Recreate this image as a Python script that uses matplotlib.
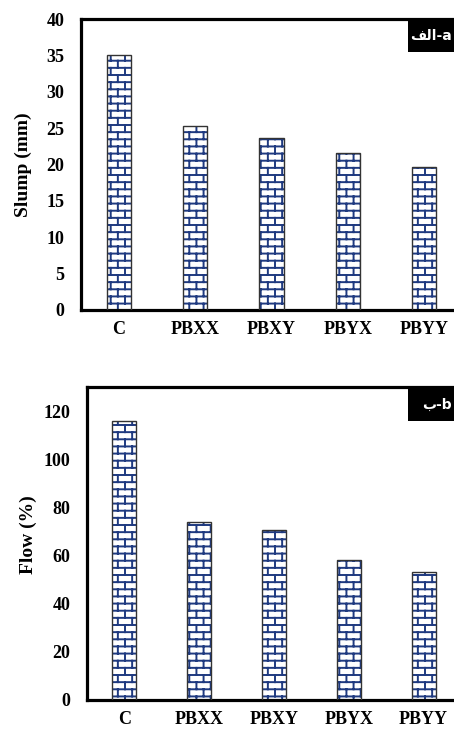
import warnings
warnings.filterwarnings("ignore")
import numpy as np
import matplotlib
matplotlib.use("Agg")
import matplotlib.pyplot as plt
from matplotlib import hatch as mhatch
from matplotlib.path import Path
from matplotlib.patches import Rectangle

# ---------------- data ----------------
categories = ["C", "PBXX", "PBXY", "PBYX", "PBYY"]
slump_mm = [35.0, 25.3, 23.6, 21.6, 19.6]
flow_pct = [116.0, 74.0, 70.5, 58.0, 53.0]
slump_ticks = [0, 5, 10, 15, 20, 25, 30, 35, 40]
flow_ticks = [0, 20, 40, 60, 80, 100, 120]
label_a = "\uFED2\uFEDF\uFE8D-a"   # visual order of "a-الف"
label_b = "\uFE8F-b"               # visual order of "b-ب"


# ---------------- brick hatch ----------------
class BrickHatch(mhatch.HatchPatternBase):
    ROWS = 14
    COLS = 7

    def __init__(self, hatch, density):
        self.on = 'b' in hatch
        if self.on:
            self.num_vertices = (self.ROWS * 2 + (self.ROWS * self.COLS + self.COLS) * 2)
        else:
            self.num_vertices = 0

    def set_vertices_and_codes(self, vertices, codes):
        R, C = self.ROWS, self.COLS
        i = 0
        for k in range(R):
            y = (k + 0.5) / R
            vertices[i] = (0.0, y); codes[i] = Path.MOVETO; i += 1
            vertices[i] = (1.0, y); codes[i] = Path.LINETO; i += 1
        for k in list(range(R)) + [-1]:
            y0 = (k + 0.5) / R
            y1 = (k + 1.5) / R
            off = 0.25 + 0.5 * (k % 2)
            for j in range(C):
                x = (j + off) / C
                vertices[i] = (x, y0); codes[i] = Path.MOVETO; i += 1
                vertices[i] = (x, y1); codes[i] = Path.LINETO; i += 1


mhatch._hatch_types.append(BrickHatch)

plt.rcParams['font.family'] = ['Liberation Serif', 'DejaVu Serif']
plt.rcParams['font.weight'] = 'bold'
plt.rcParams['hatch.linewidth'] = 1.4

W, H = 454, 731
fig = plt.figure(figsize=(W / 100, H / 100), dpi=100)

NAVY = '#1f3a80'
FS = 13


def panel(rect, values, ticks, ylim, ylabel, label_coords, tag, box_top, box_h):
    ax = fig.add_axes(rect)
    x = np.arange(len(categories))
    ax.bar(x, values, width=0.32, color='white', edgecolor=NAVY,
           linewidth=0, hatch='b', zorder=2)
    ax.bar(x, values, width=0.32, facecolor='none', edgecolor='#333333',
           linewidth=1.0, zorder=3)
    ax.set_xlim(-0.5, len(categories) - 0.5)
    ax.set_ylim(*ylim)
    ax.set_xticks(x)
    ax.set_xticklabels(categories, fontsize=FS, fontweight='bold')
    ax.set_yticks(ticks)
    ax.set_yticklabels([str(t) for t in ticks], fontsize=FS, fontweight='bold')
    ax.tick_params(axis='y', length=0, pad=12)
    ax.tick_params(axis='x', length=0, pad=8)
    for s in ax.spines.values():
        s.set_linewidth(2.3)
        s.set_color('black')
    ax.set_ylabel(ylabel, fontsize=14, fontweight='bold')
    ax.yaxis.set_label_coords(*label_coords)
    fig.patches.append(Rectangle((408 / W, 1 - (box_top + box_h) / H),
                                 50 / W, box_h / H, transform=fig.transFigure,
                                 facecolor='black', edgecolor='none', zorder=5))
    fig.text(452 / W, 1 - (box_top + box_h / 2) / H, tag, color='white',
             fontsize=10, fontweight='bold', family=['DejaVu Sans'],
             ha='right', va='center', zorder=6)
    return ax


panel([81 / W, 1 - 310 / H, 381 / W, 291 / H], slump_mm, slump_ticks, (0, 40),
      'Slump (mm)', (-0.129, 0.5), label_a, 20, 32)
panel([87 / W, 1 - 700 / H, 374 / W, 313 / H], flow_pct, flow_ticks, (0, 130),
      'Flow (%)', (-0.134, 0.527), label_b, 389, 32)

fig.savefig('out.png', dpi=100)
